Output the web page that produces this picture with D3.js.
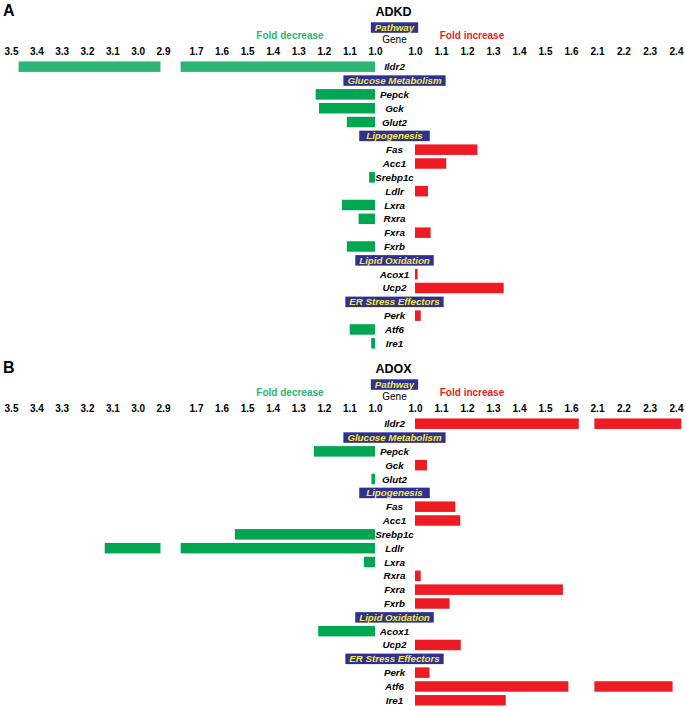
<!DOCTYPE html>
<html>
<head>
<meta charset="utf-8">
<script src="https://cdn.jsdelivr.net/npm/d3@7"></script>
<style>
  body { margin: 0; background: #fff; }
  text { font-family: "Liberation Sans", Arial, sans-serif; }
</style>
</head>
<body>
<div id="chart"></div>
<script>
// rows top to bottom, pathway headers mixed in with the genes
const rowLabels = ["Ildr2", "Glucose Metabolism", "Pepck", "Gck", "Glut2",
    "Lipogenesis", "Fas", "Acc1", "Srebp1c", "Ldlr", "Lxra", "Rxra", "Fxra", "Fxrb",
    "Lipid Oxidation", "Acox1", "Ucp2", "ER Stress Effectors", "Perk", "Atf6", "Ire1"];
const pathwayLabels = ["Glucose Metabolism", "Lipogenesis", "Lipid Oxidation", "ER Stress Effectors"];

// signed fold change: negative = fold decrease, positive = fold increase
const adkdFold = [-3.47, null, -1.232, -1.219, -1.11, null, 1.24, 1.12, -1.023, 1.05,
    -1.129, -1.064, 1.06, -1.11, null, 1.01, 1.341, null, 1.022, -1.099, -1.015];
const adoxFold = [2.42, null, -1.239, 1.046, -1.014, null, 1.155, 1.174, -1.548, -3.13,
    -1.043, 1.022, 1.569, 1.133, null, -1.222, 1.176, null, 1.056, 2.387, 1.349];

// broken bars: where the first piece stops before the axis break
const adkdCut = { Ildr2: 1.76 };
const adoxCut = { Ildr2: 1.63, Ldlr: 1.76, Atf6: 1.59 };

const decTicksHigh = [3.5, 3.4, 3.3, 3.2, 3.1, 3.0, 2.9];
const decTicksLow = [1.7, 1.6, 1.5, 1.4, 1.3, 1.2, 1.1, 1.0];
const incTicksLow = [1.0, 1.1, 1.2, 1.3, 1.4, 1.5, 1.6];
const incTicksHigh = [2.1, 2.2, 2.3, 2.4];

const panels = [
    { letter: "A", title: "ADKD", fold: adkdFold, cut: adkdCut },
    { letter: "B", title: "ADOX", fold: adoxFold, cut: adoxCut }
];

const width = 686, height = 710;
const green = "#00a651", lightGreen = "#2db573", red = "#ed1c24";
const navy = "#2e3192", yellow = "#f7ea3c";
const labelX = 394.5;
const panelOffset = 357;

const svg = d3.select("#chart").append("svg")
    .attr("width", width)
    .attr("height", height);

// split axes, each side has a break
const decLow = d3.scaleLinear().domain([1.0, 1.7]).range([375, 196]);
const decHigh = d3.scaleLinear().domain([2.9, 3.5]).range([163, 11]);
const incLow = d3.scaleLinear().domain([1.0, 1.6]).range([415, 571]);
const incHigh = d3.scaleLinear().domain([2.1, 2.4]).range([597, 676]);
const decResume = 2.91, incResume = 2.09;

const y = d3.scalePoint().domain(d3.range(rowLabels.length)).range([66.7, 343.3]);
const barH = 10.5;

function pathwayBox(g, label, cy) {
    const box = g.append("g");
    const t = box.append("text")
        .attr("x", labelX)
        .attr("y", cy + 3.5)
        .attr("text-anchor", "middle")
        .style("font-size", "9.7px")
        .style("font-weight", "bold")
        .style("font-style", "italic")
        .attr("fill", yellow)
        .text(label);
    const w = t.node().getComputedTextLength() + (label === "Lipogenesis" ? 14 : 8);
    box.insert("rect", "text")
        .attr("x", labelX - w / 2)
        .attr("y", cy - 5.2)
        .attr("width", w)
        .attr("height", 10.5)
        .attr("fill", navy);
}

panels.forEach((p, pi) => {
    const g = svg.append("g").attr("transform", `translate(0,${pi * panelOffset})`);

    g.append("text")
        .attr("x", 3).attr("y", 16)
        .style("font-size", "16px").style("font-weight", "bold")
        .text(p.letter);

    g.append("text")
        .attr("x", labelX - 1).attr("y", 15.7)
        .attr("text-anchor", "middle")
        .style("font-size", "12.5px").style("font-weight", "bold")
        .text(p.title);

    pathwayBox(g, "Pathway", 27.5);

    g.append("text")
        .attr("x", labelX).attr("y", 43.3)
        .attr("text-anchor", "middle")
        .style("font-size", "10px")
        .text("Gene");

    g.append("text")
        .attr("x", 290).attr("y", 39.3)
        .attr("text-anchor", "middle")
        .style("font-size", "10px").style("font-weight", "bold")
        .attr("fill", lightGreen)
        .text("Fold decrease");

    g.append("text")
        .attr("x", 472).attr("y", 39.3)
        .attr("text-anchor", "middle")
        .style("font-size", "10px").style("font-weight", "bold")
        .attr("fill", red)
        .text("Fold increase");

    // tick labels only, no lines
    [[decHigh, decTicksHigh], [decLow, decTicksLow], [incLow, incTicksLow], [incHigh, incTicksHigh]]
        .forEach(([scale, ticks]) => {
            const ax = g.append("g")
                .attr("transform", "translate(0,55)")
                .call(d3.axisTop(scale).tickValues(ticks).tickSize(0).tickPadding(0)
                    .tickFormat(d3.format(".1f")));
            ax.select(".domain").remove();
            ax.selectAll("text")
                .attr("fill", "#000")
                .style("font-family", '"Liberation Sans", Arial, sans-serif')
                .style("font-size", "10px")
                .style("font-weight", "bold");
        });

    rowLabels.forEach((label, i) => {
        const cy = y(i);
        if (pathwayLabels.includes(label)) {
            pathwayBox(g, label, cy);
            return;
        }
        g.append("text")
            .attr("x", labelX).attr("y", cy + 3.5)
            .attr("text-anchor", "middle")
            .style("font-size", "9.8px")
            .style("font-weight", "bold")
            .style("font-style", "italic")
            .text(label);

        const v = p.fold[i];
        const m = Math.abs(v);
        const dec = v < 0;
        const low = dec ? decLow : incLow;
        const high = dec ? decHigh : incHigh;
        const cut = p.cut[label];
        const pieces = cut
            ? [[low, 1.0, cut], [high, dec ? decResume : incResume, m]]
            : [[low, 1.0, m]];
        const fill = dec ? (pi === 0 && label === "Ildr2" ? lightGreen : green) : red;

        g.selectAll(null)
            .data(pieces)
            .enter().append("rect")
            .attr("x", d => Math.min(d[0](d[1]), d[0](d[2])))
            .attr("y", cy - barH / 2)
            .attr("width", d => Math.abs(d[0](d[2]) - d[0](d[1])))
            .attr("height", barH)
            .attr("fill", fill);
    });
});
</script>
</body>
</html>
